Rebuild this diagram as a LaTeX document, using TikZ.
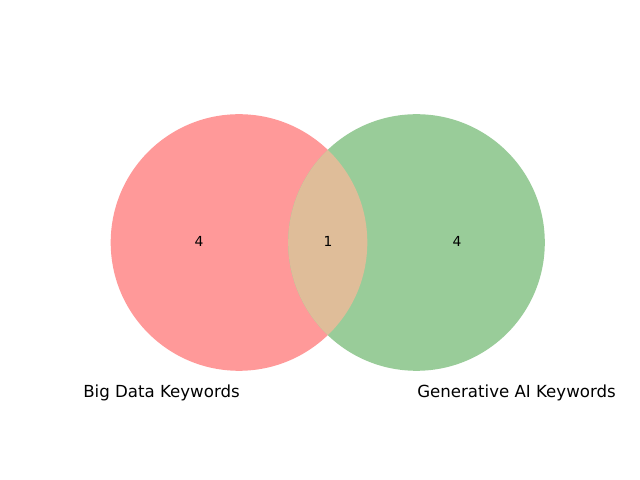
\documentclass[tikz,border=0pt]{standalone}
\usepackage{fontspec}
\setmainfont{DejaVu Sans}
\definecolor{setA}{HTML}{FF9999}
\definecolor{setB}{HTML}{99CC99}
\definecolor{setAB}{HTML}{DFBD99}
\begin{document}
\begin{tikzpicture}[x=0.01in,y=-0.01in,
  count/.style={inner sep=0pt,font=\fontsize{10}{12}\selectfont},
  setlabel/.style={inner sep=0pt,font=\fontsize{12}{14}\selectfont}]
\useasboundingbox[fill=white] (0,0) rectangle (640,480);
\coordinate (ca) at (239,242.5);
\coordinate (cb) at (416.5,242.5);
\fill[setA] (ca) circle[radius=128.3];
\fill[setB] (cb) circle[radius=128.3];
\begin{scope}
  \clip (ca) circle[radius=128.3];
  \fill[setAB] (cb) circle[radius=128.3];
\end{scope}
\node[count] (n10) at (199,241.5) {4};
\node[count] (n11) at (328,241.5) {1};
\node[count] (n01) at (457,241.5) {4};
\node[setlabel,anchor=base east] (la) at (240,397.5) {Big Data Keywords};
\node[setlabel,anchor=base west] (lb) at (417,397.5) {Generative AI Keywords};
\end{tikzpicture}
\end{document}
